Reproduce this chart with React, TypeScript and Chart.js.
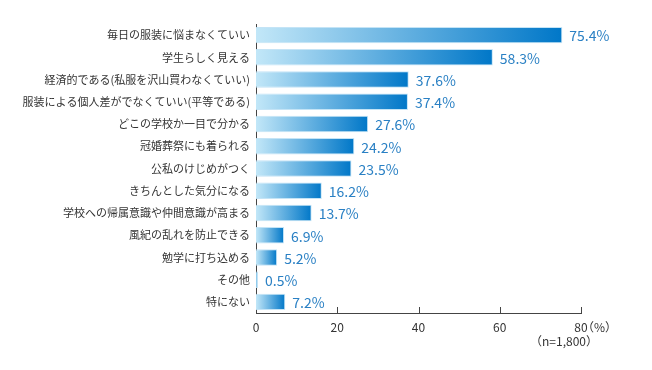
import React, { useEffect, useRef } from "react";
import { Chart, registerables } from "chart.js";

Chart.register(...registerables);

const categories = [
  "毎日の服装に悩まなくていい",
  "学生らしく見える",
  "経済的である(私服を沢山買わなくていい)",
  "服装による個人差がでなくていい(平等である)",
  "どこの学校か一目で分かる",
  "冠婚葬祭にも着られる",
  "公私のけじめがつく",
  "きちんとした気分になる",
  "学校への帰属意識や仲間意識が高まる",
  "風紀の乱れを防止できる",
  "勉学に打ち込める",
  "その他",
  "特にない",
];
const values = [75.4, 58.3, 37.6, 37.4, 27.6, 24.2, 23.5, 16.2, 13.7, 6.9, 5.2, 0.5, 7.2];
const xTicks = [0, 20, 40, 60, 80];
const unitLabel = "（%）";
const sampleLabel = "（n=1,800）";

const FONT = "'Noto Sans CJK JP', 'Noto Sans', sans-serif";

export default function App() {
  const ref = useRef<HTMLCanvasElement | null>(null);
  useEffect(() => {
    if (!ref.current) return;
    const extras = {
      id: "extras",
      afterDatasetsDraw(chart: any) {
        const ctx = chart.ctx;
        const xs = chart.scales.x;
        const meta = chart.getDatasetMeta(0);
        ctx.save();
        ctx.font = `14px ${FONT}`;
        ctx.fillStyle = "#2a80c4";
        ctx.textAlign = "left";
        ctx.textBaseline = "middle";
        meta.data.forEach((bar: any, i: number) => {
          ctx.fillText(values[i].toFixed(1) + "%", bar.x + 7, bar.y + 1);
        });
        // tick marks pointing up
        ctx.strokeStyle = "#444";
        ctx.lineWidth = 1;
        const yb = chart.chartArea.bottom;
        xTicks.forEach((t) => {
          if (t === 0) return;
          const px = Math.round(xs.getPixelForValue(t)) + 0.5;
          ctx.beginPath();
          ctx.moveTo(px, yb);
          ctx.lineTo(px, yb - 6);
          ctx.stroke();
        });
        ctx.fillStyle = "#333";
        ctx.font = `12px ${FONT}`;
        const p80 = xs.getPixelForValue(80);
        ctx.textAlign = "left";
        ctx.fillText(unitLabel, p80 + 1, yb + 14);
        ctx.textAlign = "right";
        ctx.fillText(sampleLabel, p80 + 17, yb + 28);
        ctx.restore();
      },
    };
    const chart = new Chart(ref.current, {
      type: "bar",
      data: {
        labels: categories,
        datasets: [
          {
            data: values,
            backgroundColor: (c: any) => {
              const ch = c.chart;
              const area = ch.chartArea;
              if (!area || c.raw == null) return "#0078c8";
              const x = ch.scales.x.getPixelForValue(c.raw);
              const g = ch.ctx.createLinearGradient(area.left, 0, Math.max(x, area.left + 1), 0);
              g.addColorStop(0, "#c2e7f8");
              g.addColorStop(1, "#0077c8");
              return g;
            },
            borderColor: "rgba(190,225,245,0.9)",
            borderWidth: 1,
            borderSkipped: "left",
            barPercentage: 0.74,
            categoryPercentage: 1,
          },
        ],
      },
      options: {
        indexAxis: "y",
        animation: false,
        responsive: false,
        layout: { padding: { top: 24, right: 71, left: 0, bottom: 0 } },
        plugins: { legend: { display: false }, tooltip: { enabled: false } },
        scales: {
          x: {
            min: 0,
            max: 80,
            afterFit: (s: any) => {
              s.height = 57;
            },
            afterBuildTicks: (s: any) => {
              s.ticks = xTicks.map((v) => ({ value: v }));
            },
            grid: { display: false, drawTicks: false },
            border: { display: true, color: "#444", width: 1 },
            ticks: {
              color: "#333",
              font: { size: 12, family: FONT },
              padding: 7,
              maxRotation: 0,
            },
          },
          y: {
            afterFit: (s: any) => {
              s.width = 256;
            },
            grid: { display: false, drawTicks: false },
            border: { display: true, color: "#444", width: 1 },
            ticks: {
              color: "#333",
              font: { size: 11, family: FONT },
              padding: 6,
              autoSkip: false,
            },
          },
        },
      },
      plugins: [extras],
    });
    return () => chart.destroy();
  }, []);
  return (
    <div style={{ position: "fixed", left: 0, top: 0, width: 652, height: 370, background: "#fff" }}>
      <canvas ref={ref} width={652} height={370} style={{ width: 652, height: 370 }} />
    </div>
  );
}
